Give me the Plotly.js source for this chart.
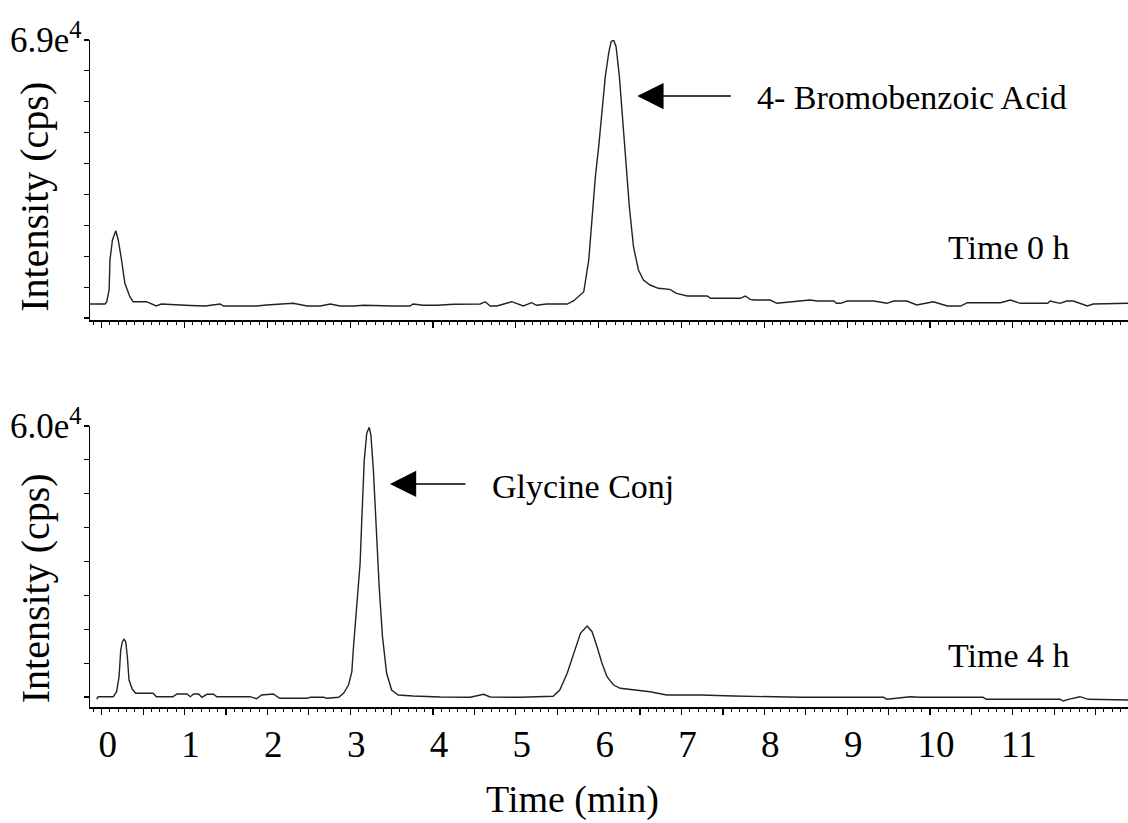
<!DOCTYPE html>
<html>
<head>
<meta charset="utf-8">
<script src="https://cdn.plot.ly/plotly-3.0.1.min.js"></script>
<style>html,body{margin:0;padding:0;background:#fff;}#chart{width:1128px;height:823px;}</style>
</head>
<body>
<div id="chart"></div>
<script>
// Time 0 h chromatogram
var time0h = [-0.14,0.04,0.06,0.09,0.10,0.13,0.17,0.20,0.24,0.28,0.34,0.38,0.54,0.60,0.66,0.72,0.89,1.07,1.25,1.43,1.47,1.87,1.99,2.31,2.48,2.64,2.76,2.88,3.04,3.16,3.52,3.72,3.76,3.88,4.05,4.25,4.57,4.63,4.69,4.77,4.95,5.09,5.19,5.25,5.37,5.62,5.70,5.78,5.82,5.88,5.92,5.96,6.00,6.04,6.08,6.12,6.15,6.18,6.21,6.25,6.29,6.33,6.37,6.42,6.48,6.54,6.62,6.72,6.86,6.94,7.07,7.31,7.35,7.71,7.77,7.83,7.87,8.07,8.15,8.55,8.64,8.84,8.87,8.92,9.00,9.32,9.48,9.56,9.72,9.84,10.04,10.21,10.37,10.45,10.85,10.97,11.09,11.42,11.45,11.57,11.65,11.73,11.81,11.90,11.97,12.18,12.39];
var intensity0h = [3475,3475,3971,6950,14396,19360,21668,19360,14396,8613,5287,4046,4046,3475,2978,3475,3227,3103,2978,3475,2978,2978,3227,3649,2978,2978,3475,2978,2978,3152,2978,2978,3475,3152,3152,3400,3475,4046,2978,2978,4046,2978,3797,3152,3475,3475,4294,5709,6528,14396,24324,35071,42517,50807,59891,65699,68578,69000,67337,59891,49144,38396,27624,17697,11914,9432,8191,7372,7123,6131,5460,5460,4890,4890,5460,4641,4468,4468,3649,4468,4219,4219,3649,3649,4219,4219,3649,4219,4219,3227,4046,2978,2978,3797,3797,4468,3649,3649,4219,3649,4219,4219,3649,2978,3475,3649,3649];

// Time 4 h chromatogram
var time4h = [-0.06,-0.04,0.14,0.18,0.21,0.23,0.25,0.27,0.29,0.31,0.33,0.37,0.41,0.62,0.66,0.86,0.91,1.03,1.07,1.11,1.17,1.21,1.27,1.35,1.39,1.79,1.87,1.93,2.07,2.15,2.48,2.52,2.68,2.72,2.86,2.92,2.98,3.02,3.04,3.08,3.12,3.14,3.17,3.20,3.23,3.25,3.28,3.32,3.35,3.39,3.44,3.50,3.58,3.76,4.09,4.45,4.61,4.69,5.05,5.45,5.53,5.62,5.70,5.78,5.86,5.92,5.98,6.04,6.10,6.18,6.26,6.42,6.62,6.82,7.23,7.63,8.44,9.44,9.48,9.76,9.88,10.64,10.68,11.57,11.61,11.67,11.81,11.91,12.18,12.39];
var intensity4h = [-443,66,66,1173,4494,10406,12243,12775,12243,8922,3764,1705,819,819,66,66,664,664,66,664,664,-66,598,598,66,66,-376,443,664,-288,-288,-66,-66,-288,-66,819,2657,5601,11136,19992,29600,39188,52472,58383,59712,58007,50258,35490,24420,13350,5247,1550,443,221,0,-66,598,0,-66,155,1550,5247,9675,14103,15719,14457,11136,7461,4494,2657,1926,1550,1173,443,443,221,-66,-66,-509,66,-66,-66,-509,-509,-886,-509,66,-509,-664,-664];

// Axis ticks and labels
var xTickVals = [0,0.5,1,1.5,2,2.5,3,3.5,4,4.5,5,5.5,6,6.5,7,7.5,8,8.5,9,9.5,10,10.5,11,11.5,12];
var xTickText = ["0","","1","","2","","3","","4","","5","","6","","7","","8","","9","","10","","11","",""];
var yTopTickVals = [0,7667,15333,23000,30667,38333,46000,53667,61333,69000];
var yTopTickText = ["","","","","","","","","","6.9e<sup>4</sup>"];
var yBotTickVals = [0,7500,15000,22500,30000,37500,45000,52500,60000];
var yBotTickText = ["","","","","","","","","6.0e<sup>4</sup>"];

var FONT = "Liberation Serif, Times New Roman, serif";
var lineStyle = {color:'#222', width:1.4};

var traces = [
  {x: time0h, y: intensity0h, type:'scatter', mode:'lines', line: lineStyle, xaxis:'x', yaxis:'y', hoverinfo:'skip'},
  {x: time4h, y: intensity4h, type:'scatter', mode:'lines', line: lineStyle, xaxis:'x2', yaxis:'y2', hoverinfo:'skip'}
];

var xCommon = {
  range:[-0.141, 12.39], showgrid:false, zeroline:false,
  showline:true, linecolor:'#000', linewidth:1.5,
  ticks:'outside', ticklen:6, tickwidth:1.2, tickcolor:'#000',
  tickmode:'array', tickvals:xTickVals,
  minor:{dtick:0.1, tick0:0, ticks:'outside', ticklen:3, tickwidth:1, tickcolor:'#000'}
};
var yCommon = {
  showgrid:false, zeroline:false, showline:true, linecolor:'#000', linewidth:1.5,
  ticks:'outside', ticklen:5, tickwidth:1.2, tickcolor:'#000', tickmode:'array',
  tickfont:{family:FONT, size:35, color:'#000'}, ticklabelstandoff:-5
};

var layout = {
  width:1128, height:823,
  margin:{l:90, r:0, t:40, b:116},
  paper_bgcolor:'#fff', plot_bgcolor:'#fff',
  showlegend:false,
  font:{family:FONT, color:'#000'},
  xaxis: Object.assign({}, xCommon, {anchor:'y', domain:[0,1], showticklabels:false, ticktext:xTickText}),
  xaxis2: Object.assign({}, xCommon, {anchor:'y2', domain:[0,1], showticklabels:true, ticktext:xTickText,
    tickfont:{family:FONT, size:37, color:'#000'}, ticklabelstandoff:-2, ticklabelshift:6}),
  yaxis: Object.assign({}, yCommon, {anchor:'x', domain:[0.5802,1], range:[-496,69000], tickvals:yTopTickVals, ticktext:yTopTickText}),
  yaxis2: Object.assign({}, yCommon, {anchor:'x2', domain:[0,0.4213], range:[-2214,60000], tickvals:yBotTickVals, ticktext:yBotTickText}),
  annotations:[
    {xref:'paper', yref:'paper', x:-0.053, y:0.765, text:'Intensity (cps)', textangle:-90, showarrow:false,
     xanchor:'center', yanchor:'middle', font:{family:FONT, size:40, color:'#000'}},
    {xref:'paper', yref:'paper', x:-0.053, y:0.178, text:'Intensity (cps)', textangle:-90, showarrow:false,
     xanchor:'center', yanchor:'middle', font:{family:FONT, size:40, color:'#000'}},
    {xref:'paper', yref:'paper', x:0.4653, y:-0.1394, text:'Time (min)', showarrow:false,
     xanchor:'center', yanchor:'middle', font:{family:FONT, size:38, color:'#000'}},
    {xref:'x', yref:'y', x:7.89, y:54852, text:'4- Bromobenzoic Acid', showarrow:false,
     xanchor:'left', yanchor:'middle', font:{family:FONT, size:34, color:'#000'}},
    {xref:'x', yref:'y', x:10.19, y:17622, text:'Time 0 h', showarrow:false,
     xanchor:'left', yanchor:'middle', font:{family:FONT, size:34, color:'#000'}},
    {xref:'x2', yref:'y2', x:4.69, y:46494, text:'Glycine Conj', showarrow:false,
     xanchor:'left', yanchor:'middle', font:{family:FONT, size:34, color:'#000'}},
    {xref:'x2', yref:'y2', x:10.19, y:9299, text:'Time 4 h', showarrow:false,
     xanchor:'left', yanchor:'middle', font:{family:FONT, size:34, color:'#000'}},
    {xref:'x', yref:'y', x:6.466, y:55100, text:'', showarrow:true, ax:95, ay:0,
     arrowhead:2, arrowsize:3.5, arrowwidth:1.5, arrowcolor:'#000', standoff:0},
    {xref:'x2', yref:'y2', x:3.48, y:47158, text:'', showarrow:true, ax:77, ay:0,
     arrowhead:2, arrowsize:3.5, arrowwidth:1.5, arrowcolor:'#000', standoff:0}
  ]
};

Plotly.newPlot('chart', traces, layout, {staticPlot:true, displayModeBar:false});
</script>
</body>
</html>
